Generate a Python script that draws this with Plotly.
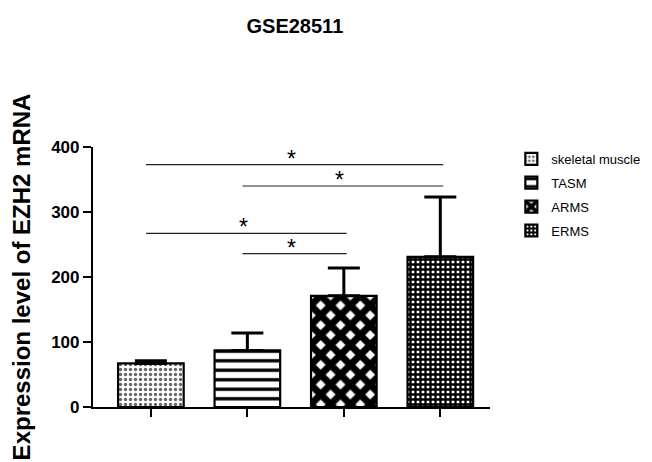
import plotly.graph_objects as go

groups = ["skeletal muscle", "TASM", "ARMS", "ERMS"]
means = [67, 87, 171, 231]
sds = [4, 27, 43, 92]
sig_pairs = [(0, 3), (1, 3), (0, 2), (1, 2)]
sig_heights = [373, 340, 267, 236]
y_ticks = [0, 100, 200, 300, 400]

patterns = [
    dict(shape=".", fgcolor="#666666", bgcolor="white", size=5, solidity=0.35, fgopacity=1),
    dict(shape="-", fgcolor="black", bgcolor="white", size=9.5, solidity=0.35, fgopacity=1),
    dict(shape="x", fgcolor="black", bgcolor="white", size=14, solidity=0.75, fgopacity=1),
    dict(shape="+", fgcolor="black", bgcolor="white", size=5, solidity=0.7, fgopacity=1),
]

fig = go.Figure()
for i, g in enumerate(groups):
    fig.add_trace(go.Bar(
        x=[i], y=[means[i]], name=g, width=0.68, legendgroup=g,
        marker=dict(color="white", line=dict(color="black", width=2.2), pattern=patterns[i]),
        error_y=dict(type="data", array=[sds[i]], arrayminus=[0], symmetric=False,
                     color="black", thickness=3, width=16),
    ))

for (a, b), h in zip(sig_pairs, sig_heights):
    fig.add_trace(go.Scatter(x=[a - 0.05, b + 0.03], y=[h, h], mode="lines",
                             line=dict(color="#222222", width=1.2),
                             showlegend=False, hoverinfo="skip"))
    fig.add_annotation(x=(a + b) / 2 - 0.04, y=h, text="*", showarrow=False,
                       yanchor="middle", yshift=6,
                       font=dict(family="Liberation Sans", size=23, color="black"))

fig.update_layout(
    width=652, height=462,
    margin=dict(l=83, r=170, t=139, b=63),
    paper_bgcolor="white", plot_bgcolor="white",
    barmode="overlay",
    title=dict(text="<b>GSE28511</b>", x=0.44, xanchor="center", y=0.96, yanchor="middle",
               font=dict(family="Liberation Sans", size=20, color="black")),
    legend=dict(xref="container", yref="container", x=0.772, y=0.706, xanchor="left", yanchor="top",
                font=dict(family="Liberation Sans", size=13, color="black"),
                itemwidth=30, tracegroupgap=4, bgcolor="rgba(0,0,0,0)"),
    showlegend=True,
)
fig.update_xaxes(range=[-0.6, 3.515], showline=True, linecolor="black", linewidth=2.2,
                 tickvals=[0, 1, 2, 3], ticks="outside", ticklen=8, tickwidth=2, tickcolor="black",
                 showticklabels=False, showgrid=False, zeroline=False)
fig.update_yaxes(range=[0, 400], tickvals=y_ticks, showline=True, linecolor="black", linewidth=2.2,
                 ticks="outside", ticklen=8, tickwidth=2, tickcolor="black",
                 tickfont=dict(family="Liberation Sans", size=17, color="black", weight="bold"),
                 title=dict(text="<b>Expression level of EZH2 mRNA</b>", standoff=14,
                            font=dict(family="Liberation Sans", size=24, color="black")),
                 showgrid=False, zeroline=False)

fig.write_html("out.html")
